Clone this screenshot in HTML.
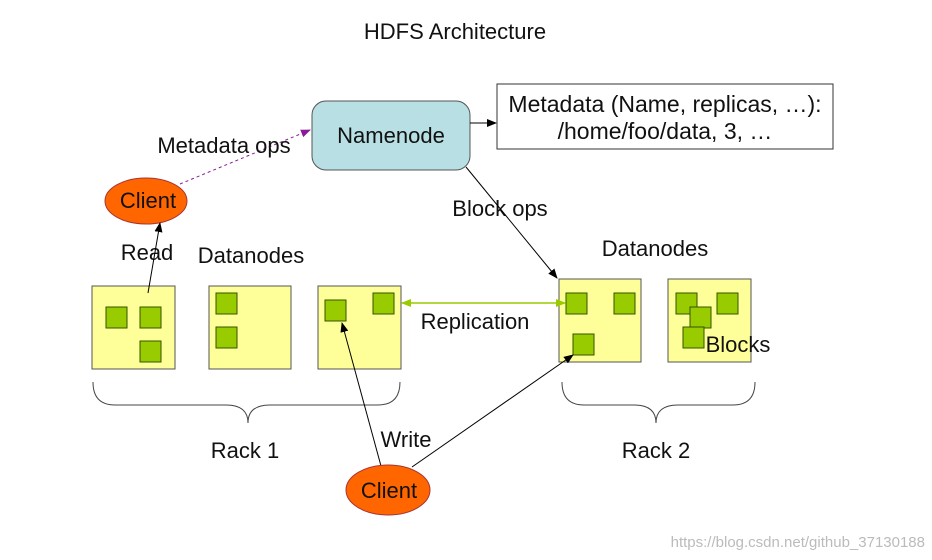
<!DOCTYPE html>
<html><head><meta charset="utf-8"><style>html,body{margin:0;padding:0;background:#fff}svg{display:block}text{font-family:"Liberation Sans",sans-serif;fill:#111}</style></head>
<body>
<svg width="932" height="560" viewBox="0 0 932 560" xmlns="http://www.w3.org/2000/svg">
<defs>
<marker id="a" markerWidth="10" markerHeight="8" refX="9" refY="4" orient="auto" markerUnits="userSpaceOnUse"><path d="M0,0 L10,4 L0,8z" fill="#000"/></marker>
<marker id="p" markerWidth="10" markerHeight="8" refX="9" refY="4" orient="auto" markerUnits="userSpaceOnUse"><path d="M0,0 L10,4 L0,8z" fill="#8a1a9a"/></marker>
<marker id="g" markerWidth="10" markerHeight="8" refX="9" refY="4" orient="auto-start-reverse" markerUnits="userSpaceOnUse"><path d="M0,0 L10,4 L0,8z" fill="#99cc00"/></marker>
</defs>
<text x="455" y="39" font-size="22" text-anchor="middle">HDFS Architecture</text>
<rect x="312" y="101" width="158" height="69" rx="14" fill="#b8e0e4" stroke="#555"/>
<text x="391" y="143" font-size="22" text-anchor="middle">Namenode</text>
<rect x="497" y="84" width="336" height="65" fill="#fff" stroke="#333"/>
<text x="665" y="112" font-size="23" text-anchor="middle">Metadata (Name, replicas, …):</text>
<text x="665" y="139" font-size="23" text-anchor="middle">/home/foo/data, 3, …</text>
<line x1="470" y1="123" x2="496" y2="123" stroke="#000" marker-end="url(#a)"/>
<ellipse cx="146" cy="201" rx="41" ry="23" fill="#ff6600" stroke="#a33"/>
<text x="148" y="208" font-size="22" text-anchor="middle">Client</text>
<line x1="180" y1="184" x2="310" y2="130" stroke="#8a1a9a" stroke-dasharray="3,3" marker-end="url(#p)"/>
<text x="224" y="153" font-size="22" text-anchor="middle">Metadata ops</text>
<text x="147" y="260" font-size="22" text-anchor="middle">Read</text>
<text x="251" y="263" font-size="22" text-anchor="middle">Datanodes</text>
<text x="655" y="256" font-size="22" text-anchor="middle">Datanodes</text>
<text x="500" y="216" font-size="22" text-anchor="middle">Block ops</text>
<line x1="466" y1="167" x2="557" y2="278" stroke="#000" marker-end="url(#a)"/>
<g fill="#ffff99" stroke="#555">
<rect x="92" y="286" width="83" height="83"/><rect x="209" y="286" width="82" height="83"/><rect x="318" y="286" width="83" height="83"/>
<rect x="559" y="279" width="82" height="83"/><rect x="668" y="279" width="83" height="83"/>
</g>
<g fill="#99cc00" stroke="#335500">
<rect x="106" y="307" width="21" height="21"/><rect x="140" y="307" width="21" height="21"/><rect x="140" y="341" width="21" height="21"/>
<rect x="216" y="293" width="21" height="21"/><rect x="216" y="327" width="21" height="21"/>
<rect x="325" y="300" width="21" height="21"/><rect x="373" y="293" width="21" height="21"/>
<rect x="566" y="293" width="21" height="21"/><rect x="614" y="293" width="21" height="21"/><rect x="573" y="334" width="21" height="21"/>
<rect x="676" y="293" width="21" height="21"/><rect x="717" y="293" width="21" height="21"/><rect x="690" y="307" width="21" height="21"/><rect x="683" y="327" width="21" height="21"/>
</g>
<text x="738" y="352" font-size="22" text-anchor="middle">Blocks</text>
<line x1="148" y1="293" x2="160" y2="223" stroke="#000" marker-end="url(#a)"/>
<line x1="402" y1="303" x2="565" y2="303" stroke="#99cc00" stroke-width="1.5" marker-start="url(#g)" marker-end="url(#g)"/>
<text x="475" y="329" font-size="22" text-anchor="middle">Replication</text>
<path d="M93,382 Q93,405 115,405 L226,405 Q248,405 248,423 Q248,405 270,405 L378,405 Q400,405 400,382" fill="none" stroke="#444"/>
<path d="M562,382 Q562,405 584,405 L634,405 Q656,405 656,423 Q656,405 678,405 L733,405 Q755,405 755,382" fill="none" stroke="#444"/>
<text x="245" y="458" font-size="22" text-anchor="middle">Rack 1</text>
<text x="656" y="458" font-size="22" text-anchor="middle">Rack 2</text>
<text x="406" y="447" font-size="22" text-anchor="middle">Write</text>
<line x1="381" y1="466" x2="342" y2="323" stroke="#000" marker-end="url(#a)"/>
<line x1="412" y1="467" x2="573" y2="355" stroke="#000" marker-end="url(#a)"/>
<ellipse cx="388" cy="490" rx="42" ry="25" fill="#ff6600" stroke="#a33"/>
<text x="389" y="498" font-size="22" text-anchor="middle">Client</text>
<text x="925" y="547" font-size="15" text-anchor="end" style="fill:#bbb">https://blog.csdn.net/github_37130188</text>
</svg>
</body></html>
